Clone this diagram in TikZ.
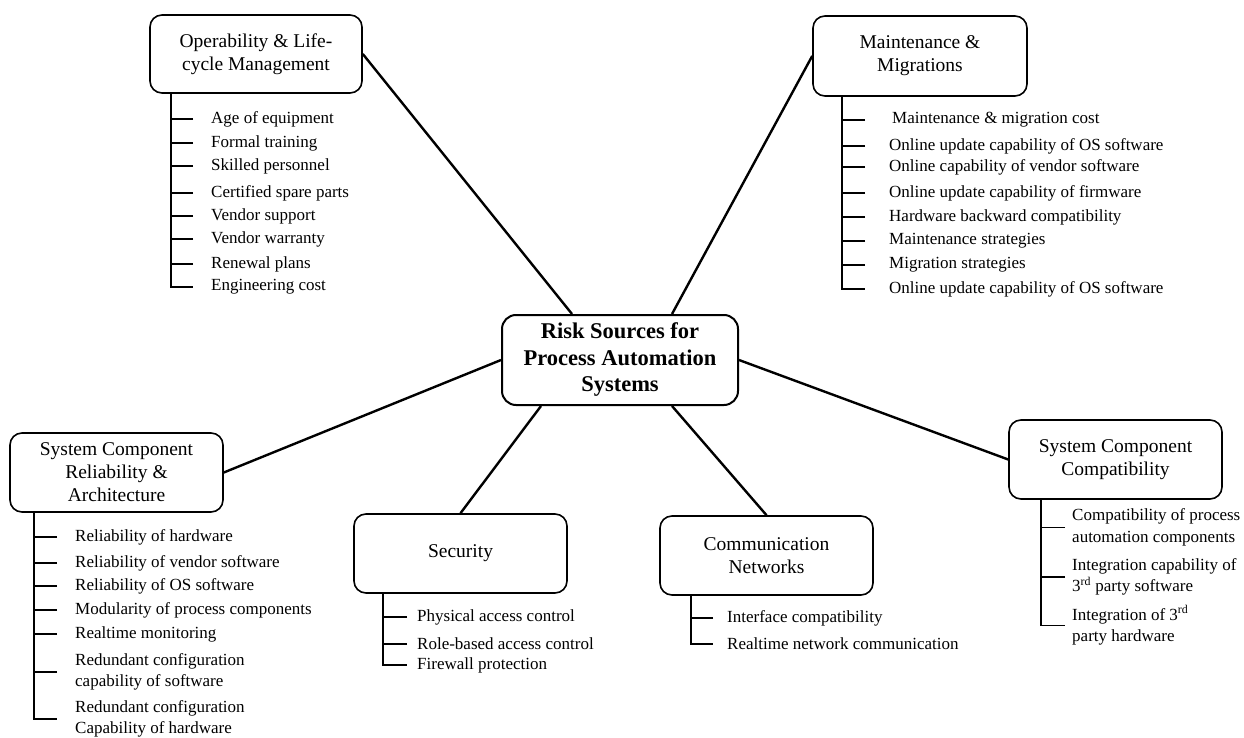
\documentclass[tikz,border=0pt]{standalone}
\usepackage{fontspec}
\setmainfont{Liberation Serif}
\usetikzlibrary{calc}
\begin{document}
\begin{tikzpicture}[x=1pt,y=-1pt,
  box/.style={draw,line width=1.6pt,rounded corners=12pt,align=center,
    minimum width=213pt,minimum height=79pt,inner sep=2pt,
    font=\fontsize{19.5}{23}\selectfont},
  hub/.style={draw,line width=2pt,rounded corners=14pt,align=center,
    minimum width=236pt,minimum height=90pt,inner sep=2pt,
    font=\fontsize{22.5}{26.5}\selectfont\bfseries},
  item/.style={anchor=west,inner sep=0pt,align=left,
    font=\fontsize{17}{21.5}\selectfont},
  spoke/.style={line width=2.4pt},
  tree/.style={line width=1.6pt}]
\useasboundingbox (0,0) rectangle (1244,738);
\fill[white] (0,0) rectangle (1244,738);

% hub
\node[hub] (ctr) at (620,360) {Risk Sources for\\Process Automation\\Systems};

% category boxes
\node[box,minimum width=212pt,minimum height=78pt] (op) at (256,54) {Operability \& Life-\\cycle Management};
\node[box,minimum width=214pt,minimum height=80pt] (mt) at (920,56) {Maintenance \&\\Migrations};
\node[box] (rel) at (116.5,472.5) {System Component\\Reliability \&\\Architecture};
\node[box] (sec) at (460.5,553.5) {Security};
\node[box] (com) at (766.5,555.5) {Communication\\Networks};
\node[box] (cmp) at (1115.5,459.5) {System Component\\Compatibility};

% spokes
\draw[spoke] (op.east) -- ([xshift=-48pt]ctr.north);
\draw[spoke] (mt.west) -- ([xshift=52pt]ctr.north);
\draw[spoke] (rel.east) -- (ctr.west);
\draw[spoke] (sec.north) -- ([xshift=-79pt]ctr.south);
\draw[spoke] (com.north) -- ([xshift=52pt]ctr.south);
\draw[spoke] (cmp.west) -- (ctr.east);

% Operability list
\node[item] (o1) at (211,119) {Age of equipment};
\node[item] (o2) at (211,143) {Formal training};
\node[item] (o3) at (211,166) {Skilled personnel};
\node[item] (o4) at (211,193) {Certified spare parts};
\node[item] (o5) at (211,216) {Vendor support};
\node[item] (o6) at (211,239) {Vendor warranty};
\node[item] (o7) at (211,264) {Renewal plans};
\node[item] (o8) at (211,287) {Engineering cost};
\draw[tree] ([xshift=22pt]op.south west) |- ($(o8.west)+(-18,0)$);
\foreach \i in {1,...,7} \draw[tree] ($(o\i.west)+(-18,0)$) -- ++(-21,0);

% Maintenance list
\node[item] (m1) at (892,120) {Maintenance \& migration cost};
\node[item] (m2) at (889,146) {Online update capability of OS software};
\node[item] (m3) at (889,167) {Online capability of vendor software};
\node[item] (m4) at (889,193) {Online update capability of firmware};
\node[item] (m5) at (889,217) {Hardware backward compatibility};
\node[item] (m6) at (889,241) {Maintenance strategies};
\node[item] (m7) at (889,265) {Migration strategies};
\node[item] (m8) at (889,289) {Online update capability of OS software};
\draw[tree] ([xshift=30pt]mt.south west) |- ($(m8.west)+(-24,0)$);
\foreach \i in {2,...,7} \draw[tree] ($(m\i.west)+(-24,0)$) -- ++(-22,0);
\draw[tree] ($(m1.west)+(-27,0)$) -- ++(-22,0);

% Reliability list
\node[item] (r1) at (75,537) {Reliability of hardware};
\node[item] (r2) at (75,563) {Reliability of vendor software};
\node[item] (r3) at (75,586) {Reliability of OS software};
\node[item] (r4) at (75,610) {Modularity of process components};
\node[item] (r5) at (75,634) {Realtime monitoring};
\node[item] (r6) at (75,672) {Redundant configuration\\capability of software};
\node[item] (r7) at (75,719) {Redundant configuration\\Capability of hardware};
\draw[tree] ([xshift=25pt]rel.south west) |- ($(r7.west)+(-18,0)$);
\foreach \i in {1,...,6} \draw[tree] ($(r\i.west)+(-18,0)$) -- ++(-22,0);

% Security list
\node[item] (s1) at (417,617) {Physical access control};
\node[item] (s2) at (417,644) {Role-based access control};
\node[item] (s3) at (417,665) {Firewall protection};
\draw[tree] ([xshift=30pt]sec.south west) |- ($(s3.west)+(-10,0)$);
\foreach \i in {1,2} \draw[tree] ($(s\i.west)+(-10,0)$) -- ++(-23,0);

% Communication list
\node[item] (c1) at (727,618) {Interface compatibility};
\node[item] (c2) at (727,644) {Realtime network communication};
\draw[tree] ([xshift=32pt]com.south west) |- ($(c2.west)+(-14,0)$);
\draw[tree] ($(c1.west)+(-14,0)$) -- ++(-21,0);

% Compatibility list
\node[item] (k1) at (1072,527.5) {Compatibility of process\\automation components};
\node[item] (k2) at (1072,577) {Integration capability of\\3\textsuperscript{rd} party software};
\node[item] (k3) at (1072,625.5) {Integration of 3\textsuperscript{rd}\\party hardware};
\draw[tree] ([xshift=33pt]cmp.south west) |- ($(k3.west)+(-7,0)$);
\foreach \i in {1,2} \draw[tree] ($(k\i.west)+(-7,0)$) -- ++(-23,0);
\end{tikzpicture}
\end{document}
